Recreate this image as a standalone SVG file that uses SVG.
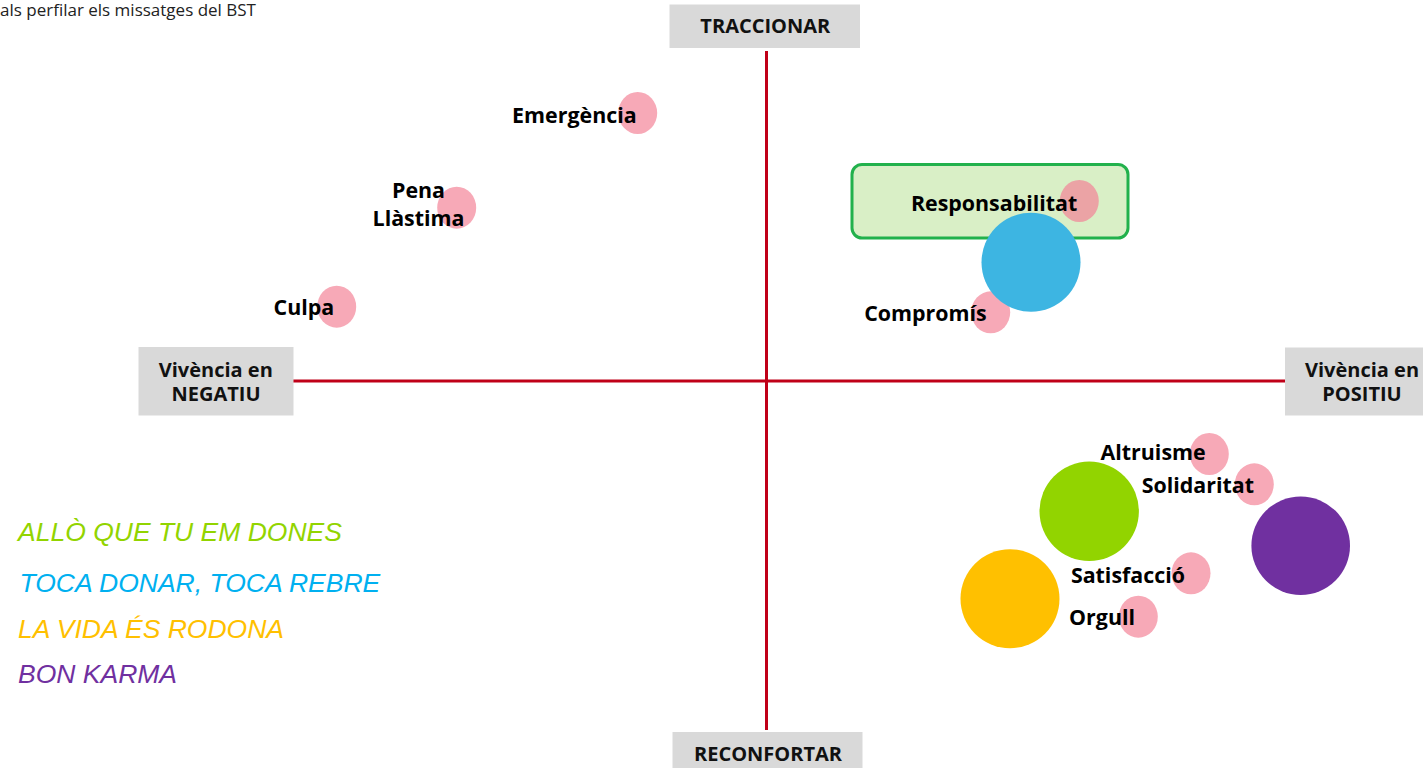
<svg xmlns="http://www.w3.org/2000/svg" width="1423" height="768" viewBox="0 0 1423 768">
<style>
.lbl{font-family:"Open Sans","Noto Sans","Liberation Sans",sans-serif;font-weight:bold;font-size:21.4px;fill:#000}
.ax{font-family:"Open Sans","Noto Sans","Liberation Sans",sans-serif;font-weight:bold;font-size:20px;fill:#111;text-anchor:middle}
.box{fill:#d9d9d9}
.pk{fill:#f7a9b7}
.leg{font-family:"Liberation Sans",Arial,sans-serif;font-style:italic;font-size:26.5px}
.axis{stroke:#c00018;stroke-width:3;fill:none}
</style>
<rect width="1423" height="768" fill="#fff"/>
<text x="0" y="16" font-family="Open Sans, Noto Sans, Liberation Sans, sans-serif" font-size="17" fill="#222">als perfilar els missatges del BST</text>
<g id="connectors">
<line class="axis" x1="766.5" y1="51" x2="766.5" y2="730"/>
<line class="axis" x1="293" y1="381" x2="1285" y2="381"/>
</g>
<g id="traccionar"><rect class="box" x="669.5" y="4.5" width="190.5" height="43.5"/><text class="ax" x="765.3" y="33.3" font-size="20.8">TRACCIONAR</text></g>
<g id="reconfortar"><rect class="box" x="672.5" y="732" width="190" height="36"/><text class="ax" x="768" y="761" font-size="20.8">RECONFORTAR</text></g>
<g id="negatiu"><rect class="box" x="138.5" y="347" width="155" height="68.5"/><text class="ax" x="215.8" y="376.7">Vivència en</text><text class="ax" x="216" y="401">NEGATIU</text></g>
<g id="positiu"><rect class="box" x="1285" y="347.5" width="138" height="68"/><text class="ax" x="1362" y="376.7">Vivència en</text><text class="ax" x="1362" y="401">POSITIU</text></g>
<g id="emergencia"><ellipse class="pk" cx="637.7" cy="113" rx="19.5" ry="21"/><text class="lbl" x="636.7" y="122.7" text-anchor="end">Emergència</text></g>
<g id="pena"><ellipse class="pk" cx="456.7" cy="207.7" rx="19.5" ry="21"/><text class="lbl" x="418.5" y="198" text-anchor="middle">Pena</text><text class="lbl" x="418.5" y="225.7" text-anchor="middle">Llàstima</text></g>
<g id="culpa"><ellipse class="pk" cx="336.7" cy="306.7" rx="19.5" ry="21"/><text class="lbl" x="334.3" y="315" text-anchor="end">Culpa</text></g>
<g id="responsabilitat"><rect x="852" y="164.5" width="276" height="73.5" rx="10" fill="#d9efc6" stroke="#22b14c" stroke-width="3"/><ellipse cx="1079.3" cy="201" rx="19.5" ry="21" fill="#eba3a5"/><text class="lbl" x="1077.3" y="211" text-anchor="end">Responsabilitat</text></g>
<g id="compromis"><ellipse class="pk" cx="990.7" cy="312.3" rx="19.5" ry="21"/><text class="lbl" x="986.7" y="320.7" text-anchor="end">Compromís</text></g>
<g id="toca-donar"><circle cx="1031" cy="262.3" r="49.5" fill="#3db5e2"/></g>
<g id="altruisme"><ellipse class="pk" cx="1209.3" cy="454" rx="19.5" ry="21"/><text class="lbl" x="1205.7" y="460" text-anchor="end">Altruisme</text></g>
<g id="solidaritat"><ellipse class="pk" cx="1254.3" cy="484.3" rx="19.5" ry="21"/><text class="lbl" x="1254" y="493.3" text-anchor="end">Solidaritat</text></g>
<g id="allo-que"><circle cx="1089.2" cy="511.3" r="49.7" fill="#92d400"/></g>
<g id="bon-karma"><circle cx="1300.7" cy="545.7" r="49.3" fill="#7030a0"/></g>
<g id="la-vida"><circle cx="1010" cy="598.7" r="49.5" fill="#ffc000"/></g>
<g id="satisfaccio"><ellipse class="pk" cx="1191" cy="573.3" rx="19.5" ry="21"/><text class="lbl" x="1185" y="582.7" text-anchor="end">Satisfacció</text></g>
<g id="orgull"><ellipse class="pk" cx="1138.3" cy="616.7" rx="19.5" ry="21"/><text class="lbl" x="1135" y="625" text-anchor="end">Orgull</text></g>
<g id="legend">
<text class="leg" x="18" y="540.7" fill="#92d400">ALLÒ QUE TU EM DONES</text>
<text class="leg" x="19.5" y="591.7" fill="#00b0f0">TOCA DONAR, TOCA REBRE</text>
<text class="leg" x="18" y="638.3" fill="#ffc000">LA VIDA ÉS RODONA</text>
<text class="leg" x="18" y="682.7" fill="#7030a0">BON KARMA</text>
</g>
</svg>
